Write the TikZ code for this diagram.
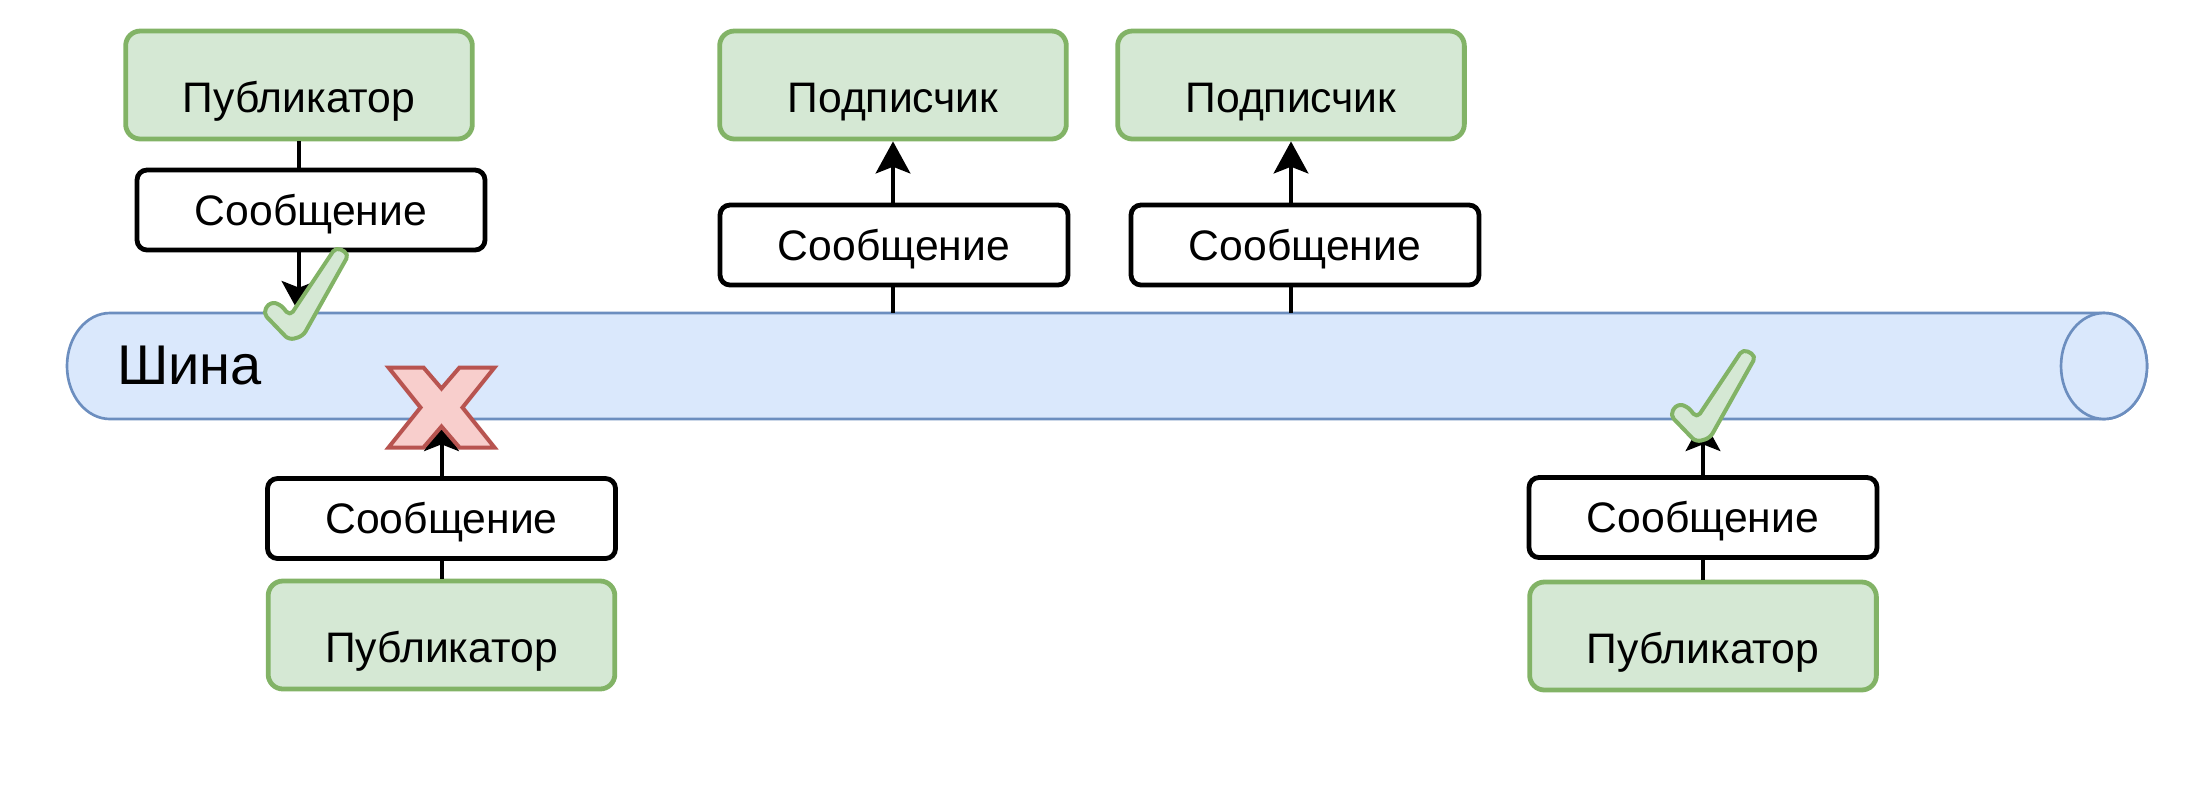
\documentclass[tikz,border=0pt]{standalone}
\usepackage{fontspec}
\setmainfont{Liberation Sans}
\usepackage{xcolor}
\usepackage{tikz}
\usetikzlibrary{arrows.meta}

\definecolor{greenfill}{HTML}{D5E8D4}
\definecolor{greenline}{HTML}{82B366}
\definecolor{busfill}{HTML}{DAE8FC}
\definecolor{busline}{HTML}{6C8EBF}
\definecolor{redfill}{HTML}{F8CECC}
\definecolor{redline}{HTML}{B85450}

\tikzset{
  rolebox/.style={draw=greenline, fill=greenfill, line width=3.6pt, rounded corners=11pt,
    minimum width=260pt, minimum height=81pt, inner sep=0pt,
    font=\fontsize{32}{38}\selectfont, text height=40.8pt, text depth=0pt},
  msgbox/.style={draw=black, fill=white, line width=3.6pt, rounded corners=7.5pt,
    minimum width=261pt, minimum height=60pt, inner sep=0pt,
    font=\fontsize{32}{38}\selectfont, text height=23pt, text depth=0pt},
  busline/.style={draw=busline, fill=busfill, line width=2pt},
  link/.style={line width=3pt},
  arrowlink/.style={link, -{Stealth[length=24pt,width=26pt,inset=5pt]}},
  okmark/.style={draw=greenline, fill=greenfill, line width=3pt, line join=round, rounded corners=4pt},
  failmark/.style={draw=redline, fill=redfill, line width=3pt, line join=miter},
}

\begin{document}
\begin{tikzpicture}[x=0.75pt,y=0.75pt,yscale=-1,xscale=1]
\useasboundingbox (0,0) rectangle (2198,794);

%Shape: Cylinder [bus]
\draw[busline] (110,313) -- (2104,313) arc[start angle=-90, end angle=90, x radius=43, y radius=53]
  -- (110,419) arc[start angle=90, end angle=270, x radius=43, y radius=53] -- cycle;
\draw[busline] (2104,366) ellipse [x radius=43, y radius=53];
\coordinate (bustop) at (1107,313);
\coordinate (busbottom) at (1107,419);
% Text Node
\node[anchor=base west, inner sep=0pt, font=\fontsize{42}{50}\selectfont] (buslabel) at (117,384) {Шина};

%Shape: Rectangles [roles]
\node[rolebox] (pub1) at (299,85) {Публикатор};
\node[rolebox] (sub1) at (893,85) {Подписчик};
\node[rolebox] (sub2) at (1291,85) {Подписчик};
\node[rolebox] (pub2) at (441.5,635) {Публикатор};
\node[rolebox] (pub3) at (1703,636) {Публикатор};

%Straight Lines [links]
\draw[arrowlink] (pub1) -- (pub1 |- bustop);
\draw[arrowlink] (sub1 |- bustop) -- (sub1);
\draw[arrowlink] (sub2 |- bustop) -- (sub2);
\draw[arrowlink] (pub2) -- (pub2 |- busbottom);
\draw[arrowlink] (pub3) -- (pub3 |- busbottom);

%Shape: Rectangles [messages]
\node[msgbox] (msg1) at (311,210) {Сообщение};
\node[msgbox] (msg2) at (894,245) {Сообщение};
\node[msgbox] (msg3) at (1305,245) {Сообщение};
\node[msgbox] (msg4) at (441.5,518.5) {Сообщение};
\node[msgbox] (msg5) at (1703,517.5) {Сообщение};

%Shape: Check marks
\draw[okmark, shift={(258,243)}] (78,4) -- (91,11) -- (45,93) -- (31,97) -- (5,70) -- (12,59) -- (22,61) -- (32,73) -- cycle;
\draw[okmark, shift={(1665,345)}] (78,4) -- (91,11) -- (45,93) -- (31,97) -- (5,70) -- (12,59) -- (22,61) -- (32,73) -- cycle;
%Shape: Cross
\draw[failmark, shift={(441.5,407.5)}] (-53,-40) -- (-18,-40) -- (0,-19) -- (18,-40) -- (53,-40) -- (21,0) -- (53,40) -- (18,40) -- (0,19) -- (-18,40) -- (-53,40) -- (-21,0) -- cycle;

\end{tikzpicture}
\end{document}
